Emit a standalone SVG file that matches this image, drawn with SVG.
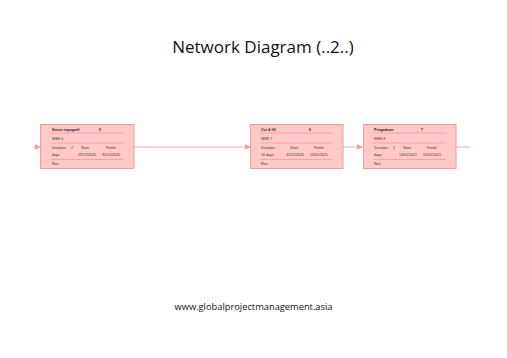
<svg xmlns="http://www.w3.org/2000/svg" width="507" height="358" viewBox="0 0 507 358">
<defs>
<marker id="ah" markerWidth="6" markerHeight="6" refX="5.5" refY="3" orient="auto" markerUnits="userSpaceOnUse">
<path d="M0,0 L6,3 L0,6 Z" fill="#f49a9a"/>
</marker>
<style>
.box{fill:#ffc9c9;stroke:#f49a9a;stroke-width:1}
.sep{stroke:#f08a8a;stroke-width:0.6}
.t{font-family:"Liberation Sans",Arial,sans-serif;font-size:3.6px;fill:#333}
.tb{font-family:"Liberation Sans",Arial,sans-serif;font-size:3.6px;fill:#222;font-weight:bold}
.con{stroke:#f7a8a8;stroke-width:1;fill:none}
</style>
</defs>
<rect width="507" height="358" fill="#fff"/>
<text x="263" y="53" text-anchor="middle" font-family="'Open Sans','Liberation Sans',sans-serif" font-size="17" fill="#111">Network Diagram (..2..)</text>
<text x="253.5" y="310" text-anchor="middle" font-family="'Open Sans','Liberation Sans',sans-serif" font-size="9.3" fill="#111">www.globalprojectmanagement.asia</text>
<g id="connectors">
<line class="con" x1="33" y1="147" x2="40" y2="147" marker-end="url(#ah)"/>
<line class="con" x1="134" y1="147" x2="250" y2="147" marker-end="url(#ah)"/>
<line class="con" x1="343" y1="147" x2="362" y2="147" marker-end="url(#ah)"/>
<line class="con" x1="456" y1="147" x2="470" y2="147"/>
</g>
<g id="node5">
<rect class="box" x="40.5" y="124.5" width="93.5" height="44"/>
<text class="tb" x="52" y="130.5">Survei topografi</text><text class="tb" x="99" y="130.5">5</text>
<line class="sep" x1="51" y1="133" x2="124" y2="133"/>
<text class="t" x="52" y="140">WBS 6</text>
<line class="sep" x1="51" y1="143" x2="124" y2="143"/>
<text class="t" x="52" y="149">Duration:</text><text class="t" x="71" y="149">2</text>
<text class="t" x="81" y="149">Start:</text><text class="t" x="106" y="149">Finish:</text>
<text class="t" x="52" y="156">days</text><text class="t" x="78" y="156">29/12/2020</text><text class="t" x="102" y="156">30/12/2020</text>
<line class="sep" x1="51" y1="159.5" x2="124" y2="159.5"/>
<text class="t" x="52" y="165">Res:</text>
</g>
<g id="node6">
<rect class="box" x="250.5" y="124.5" width="92.5" height="44"/>
<text class="tb" x="261" y="130.5">Cut &amp; fill</text><text class="tb" x="309" y="130.5">6</text>
<line class="sep" x1="260" y1="133" x2="333" y2="133"/>
<text class="t" x="261" y="140">WBS 7</text>
<line class="sep" x1="260" y1="143" x2="333" y2="143"/>
<text class="t" x="261" y="149">Duration:</text>
<text class="t" x="290" y="149">Start:</text><text class="t" x="314" y="149">Finish:</text>
<text class="t" x="261" y="156">10 days</text><text class="t" x="286" y="156">31/12/2020</text><text class="t" x="310" y="156">13/01/2021</text>
<line class="sep" x1="260" y1="159.5" x2="333" y2="159.5"/>
<text class="t" x="261" y="165">Res:</text>
</g>
<g id="node7">
<rect class="box" x="363.5" y="124.5" width="92.5" height="44"/>
<text class="tb" x="374" y="130.5">Pengaduan</text><text class="tb" x="421" y="130.5">7</text>
<line class="sep" x1="373" y1="133" x2="446" y2="133"/>
<text class="t" x="374" y="140">WBS 8</text>
<line class="sep" x1="373" y1="143" x2="446" y2="143"/>
<text class="t" x="374" y="149">Duration:</text><text class="t" x="393" y="149">2</text>
<text class="t" x="403" y="149">Start:</text><text class="t" x="427" y="149">Finish:</text>
<text class="t" x="374" y="156">days</text><text class="t" x="399" y="156">14/01/2021</text><text class="t" x="423" y="156">15/01/2021</text>
<line class="sep" x1="373" y1="159.5" x2="446" y2="159.5"/>
<text class="t" x="374" y="165">Res:</text>
</g>
</svg>
